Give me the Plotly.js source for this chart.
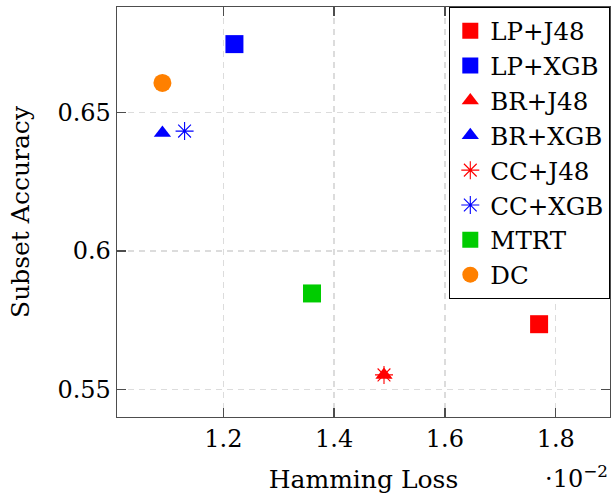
<!DOCTYPE html>
<html>
<head>
<meta charset="utf-8">
<script src="https://cdn.plot.ly/plotly-3.0.1.min.js"></script>
<style>
html,body{margin:0;padding:0;background:#fff;}
#chart{width:611px;height:500px;}
</style>
</head>
<body>
<div id="chart"></div>
<script>
// Data (Hamming Loss in units of 10^-2, Subset Accuracy)
const methods   = ["LP+J48", "LP+XGB", "BR+J48", "BR+XGB", "CC+J48", "CC+XGB", "MTRT", "DC"];
const hamming   = [1.77, 1.22, 1.49, 1.09, 1.49, 1.13, 1.36, 1.09];
const accuracy  = [0.5736, 0.6747, 0.5553, 0.6426, 0.5553, 0.6433, 0.5847, 0.6607];
const xTickVals = [1.2, 1.4, 1.6, 1.8];
const xTickText = ["1.2", "1.4", "1.6", "1.8"];
const yTickVals = [0.55, 0.6, 0.65];
const yTickText = ["0.55", "0.6", "0.65"];

// Styles
const colors  = ["#ff0000", "#0000ff", "#ff0000", "#0000ff", "#ff0000", "#0000ff", "#00cc00", "#ff8000"];
const symbols = ["square", "square", "triangle-up", "triangle-up", "asterisk-open", "asterisk-open", "square", "circle"];
const sizes   = [18, 18, 15, 15, 15, 15, 18, 18];

const FONT = "DejaVu Serif";

const traces = methods.map((m, i) => ({
  type: "scatter",
  mode: "markers",
  name: m,
  x: [hamming[i]],
  y: [accuracy[i]],
  marker: {
    symbol: symbols[i],
    color: colors[i],
    size: sizes[i],
    line: { color: colors[i], width: symbols[i].indexOf("open") >= 0 ? 1.1 : 0 }
  },
  hoverinfo: "x+y+name"
}));

const axisCommon = {
  showline: true, linecolor: "#4d4d4d", linewidth: 1.3, mirror: "ticks",
  ticks: "inside", ticklen: 9, tickwidth: 1.3, tickcolor: "#4d4d4d",
  showgrid: true, gridcolor: "#dcdcdc", gridwidth: 1.3, griddash: "6px,5px",
  zeroline: false,
  tickfont: { family: FONT, size: 24, color: "#000" }
};

const layout = {
  width: 611, height: 500,
  margin: { l: 117, r: 1, t: 7, b: 83 },
  paper_bgcolor: "#fff", plot_bgcolor: "#fff",
  font: { family: FONT, size: 24, color: "#000" },
  showlegend: true,
  legend: {
    x: 1, y: 1, xanchor: "right", yanchor: "top",
    bgcolor: "#fff", bordercolor: "#000", borderwidth: 1.3,
    font: { family: FONT, size: 24.5, color: "#000" },
    itemwidth: 30
  },
  xaxis: Object.assign({}, axisCommon, {
    range: [1.008, 1.898],
    tickmode: "array", tickvals: xTickVals, ticktext: xTickText,
    title: { text: "Hamming Loss", font: { family: FONT, size: 25, color: "#000" }, standoff: 18 },
    automargin: false
  }),
  yaxis: Object.assign({}, axisCommon, {
    range: [0.5401, 0.6881],
    tickmode: "array", tickvals: yTickVals, ticktext: yTickText,
    title: { text: "Subset Accuracy", font: { family: FONT, size: 25, color: "#000" }, standoff: 20 },
    automargin: false
  }),
  annotations: [{
    xref: "paper", yref: "paper", x: 1, y: -0.147, xanchor: "right", yanchor: "middle",
    text: "·10<sup>−2</sup>", showarrow: false,
    font: { family: FONT, size: 24, color: "#000" }
  }]
};

Plotly.newPlot("chart", traces, layout, { displayModeBar: false, staticPlot: true });
</script>
</body>
</html>
